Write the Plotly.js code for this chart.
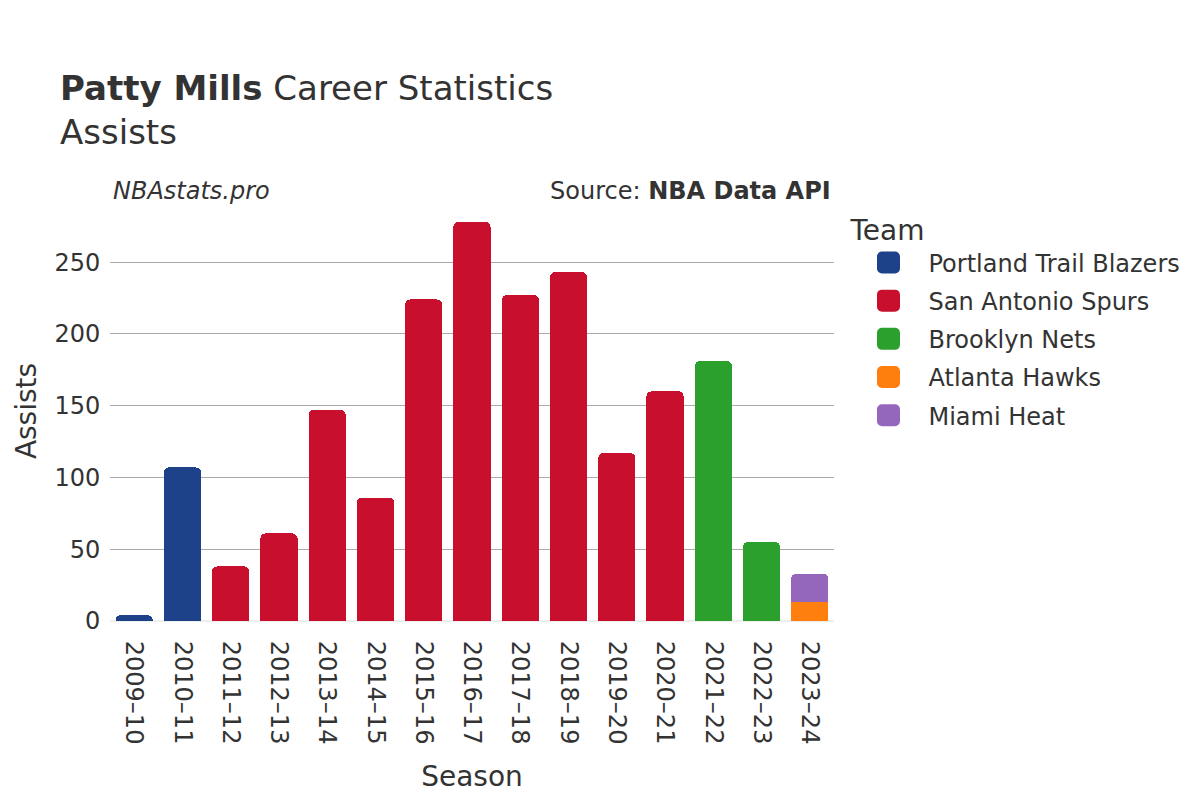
<!DOCTYPE html>
<html>
<head>
<meta charset="utf-8">
<script src="https://cdn.plot.ly/plotly-3.0.1.min.js"></script>
<style>
  body { margin: 0; background: #fff; }
  #chart { width: 1200px; height: 800px; }
</style>
</head>
<body>
<div id="chart"></div>
<script>
var seasons = ['2009–10', '2010–11', '2011–12', '2012–13', '2013–14', '2014–15', '2015–16',
	'2016–17', '2017–18', '2018–19', '2019–20', '2020–21', '2021–22', '2022–23', '2023–24'];

var teams = ['Portland Trail Blazers', 'San Antonio Spurs', 'Brooklyn Nets', 'Atlanta Hawks', 'Miami Heat'];
var teamColors = ['#1d428a', '#c8102e', '#2ca02c', '#ff7f0e', '#9467bd'];

var portland = [4, 107, null, null, null, null, null, null, null, null, null, null, null, null, null];
var spurs = [null, null, 38, 61, 147, 86, 224, 278, 227, 243, 117, 160, null, null, null];
var brooklyn = [null, null, null, null, null, null, null, null, null, null, null, null, 181, 55, null];
var atlanta = [null, null, null, null, null, null, null, null, null, null, null, null, null, null, 13];
var miami = [null, null, null, null, null, null, null, null, null, null, null, null, null, null, 20];

var teamValues = [portland, spurs, brooklyn, atlanta, miami];

var font = 'DejaVu Sans, sans-serif';
var textColor = '#333';

var data = teams.map(function (name, i) {
	return {
		type: 'bar',
		name: name,
		legendgroup: name,
		x: seasons,
		y: teamValues[i],
		marker: { color: teamColors[i] },
		hovertemplate: '%{x}: %{y}<extra>' + name + '</extra>'
	};
});

var layout = {
	width: 1200,
	height: 800,
	barmode: 'stack',
	bargap: 0.23,
	barcornerradius: 5,
	paper_bgcolor: '#fff',
	plot_bgcolor: '#fff',
	font: { family: font, color: textColor, size: 24 },
	margin: { l: 110, r: 366, t: 201, b: 179, pad: 0 },
	title: {
		text: '<b>Patty Mills</b> Career Statistics<br>Assists',
		font: { family: font, size: 34, color: textColor },
		x: 0.05, xanchor: 'left',
		y: 0.875, yanchor: 'top'
	},
	xaxis: {
		title: { text: 'Season', font: { size: 28 }, standoff: 22 },
		tickangle: 90,
		tickfont: { size: 24 },
		showgrid: false,
		ticks: 'outside',
		ticklen: 14,
		tickcolor: 'rgba(0,0,0,0)'
	},
	yaxis: {
		title: { text: 'Assists', font: { size: 28 }, standoff: 9 },
		tickfont: { size: 24 },
		gridcolor: '#aaa',
		gridwidth: 1,
		zeroline: true,
		zerolinecolor: '#eee',
		zerolinewidth: 2,
		ticks: 'outside',
		ticklen: 4,
		tickcolor: 'rgba(0,0,0,0)',
		tickvals: [0, 50, 100, 150, 200, 250],
		range: [0, 292.6]
	},
	legend: {
		title: { text: 'Team', font: { size: 28 } },
		font: { size: 24 },
		traceorder: 'grouped',
		x: 1.02, xanchor: 'left',
		y: 0.993, yanchor: 'top',
		tracegroupgap: 4,
		itemwidth: 70
	},
	annotations: [
		{
			text: '<i>NBAstats.pro</i>',
			xref: 'paper', yref: 'paper',
			x: 0.001, y: 1.0, xanchor: 'left', yanchor: 'bottom',
			yshift: -6,
			showarrow: false,
			font: { size: 24, color: textColor }
		},
		{
			text: 'Source: <b>NBA Data API</b>',
			xref: 'paper', yref: 'paper',
			x: 0.999, y: 1.0, xanchor: 'right', yanchor: 'bottom',
			yshift: -6,
			showarrow: false,
			font: { size: 24, color: textColor }
		}
	]
};

Plotly.newPlot('chart', data, layout, { displayModeBar: false }).then(function (gd) {
	// bigger rounded legend swatches
	gd.querySelectorAll('.legend .legendpoints path').forEach(function (p) {
		p.setAttribute('d', 'M-6.5,-11H6.5A5,5 0 0 1 11.5,-6V6A5,5 0 0 1 6.5,11H-6.5A5,5 0 0 1 -11.5,6V-6A5,5 0 0 1 -6.5,-11Z');
	});
});
</script>
</body>
</html>
